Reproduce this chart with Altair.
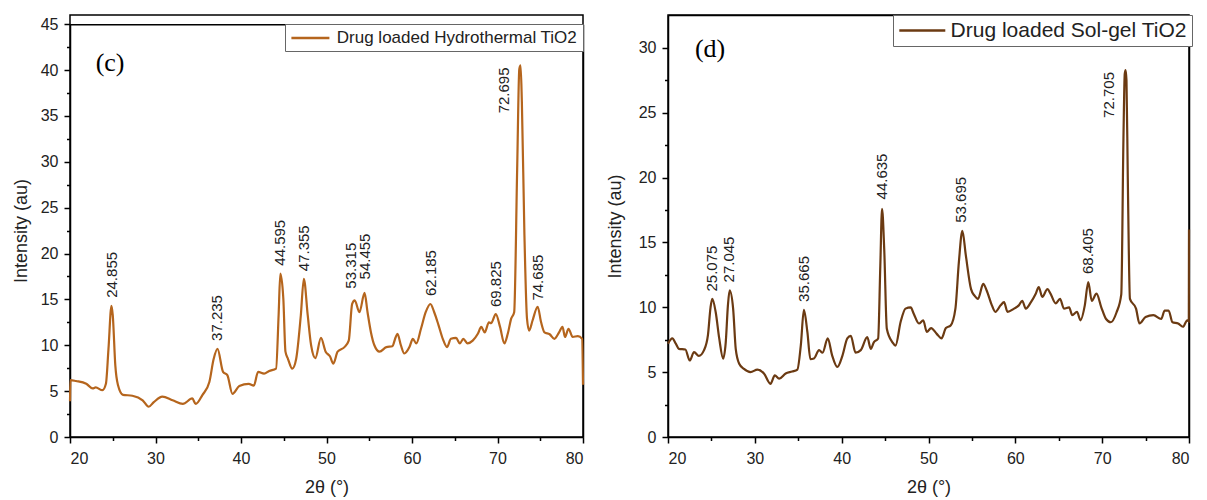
import altair as alt
import pandas as pd

# ---------------- data: panel (c) Drug loaded Hydrothermal TiO2 ----------------
hydro_name = "Drug loaded Hydrothermal TiO2"
hydro_x = [
    20.0, 20.05, 20.7, 21.9, 22.65, 23.0, 23.8, 24.2, 24.5, 24.85,
    25.0, 25.3, 25.6, 26.2, 27.3, 28.5, 29.2, 29.8, 30.8, 32.0,
    33.2, 34.3, 34.7, 35.5, 36.3, 36.8, 37.25, 37.9, 38.4, 39.0,
    39.8, 40.9, 41.5, 42.0, 42.7, 43.3, 44.1, 44.4, 44.6, 44.95,
    45.2, 45.5, 46.0, 46.45, 47.0, 47.35, 47.8, 48.2, 48.7, 49.35,
    49.9, 50.4, 50.8, 51.3, 52.1, 52.6, 53.0, 53.3, 53.85, 54.45,
    54.8, 55.2, 55.6, 56.2, 57.0, 57.7, 58.1, 58.3, 58.7, 59.1,
    59.7, 60.1, 60.5, 61.05, 61.6, 62.15, 62.6, 63.1, 63.6, 64.1,
    64.55, 65.15, 65.6, 66.0, 66.5, 67.1, 67.7, 68.1, 68.5, 69.0,
    69.25, 69.8, 70.3, 70.8, 71.2, 71.6, 71.95, 72.3, 72.55, 72.7,
    72.85, 73.15, 73.45, 73.7, 74.1, 74.7, 75.1, 75.5, 76.1, 76.65,
    77.2, 77.6, 77.9, 78.3, 78.8, 79.4, 79.9, 80.0,
]
hydro_y = [
    3.9, 6.2, 6.1, 5.8, 5.3, 5.4, 5.1, 5.8, 9.6, 14.3,
    13.3, 7.8, 5.7, 4.6, 4.5, 4.0, 3.3, 3.8, 4.4, 4.0,
    3.6, 4.2, 3.6, 4.6, 6.0, 8.5, 9.6, 7.1, 6.75, 4.7,
    5.55, 5.8, 5.6, 7.1, 6.9, 7.2, 7.45, 13.3, 17.8, 15.1,
    9.3, 8.5, 7.45, 8.5, 13.3, 17.25, 13.3, 10.0, 8.6, 10.8,
    9.3, 8.8, 8.0, 9.3, 9.8, 10.5, 14.5, 14.9, 13.6, 15.7,
    13.6, 11.4, 10.0, 9.3, 9.8, 9.9, 10.9, 11.25, 10.0, 9.1,
    9.8, 10.7, 10.2, 11.8, 13.6, 14.5, 13.6, 12.2, 10.7, 9.8,
    10.7, 10.8, 10.2, 10.7, 10.2, 10.5, 11.25, 12.0, 11.4, 12.5,
    12.4, 13.4, 12.0, 10.2, 11.25, 12.9, 13.6, 29.2, 40.1, 40.5,
    36.5, 22.0, 12.9, 11.6, 12.7, 14.2, 12.5, 11.4, 11.2, 10.7,
    11.4, 12.0, 10.9, 11.8, 10.9, 11.0, 10.7, 5.7,
]
hydro_peak_txt = ["24.855", "37.235", "44.595", "47.355", "53.315", "54.455", "62.185", "69.825", "74.685"]
hydro_label_x = [24.855, 37.235, 44.595, 47.355, 52.85, 54.55, 62.185, 69.825, 74.685]
hydro_label_y = [14.3, 9.6, 17.8, 17.2, 15.3, 16.3, 14.5, 13.3, 14.0]
hydro_top_txt = ["72.695"]
hydro_top_x = [72.695]
hydro_top_y = [40.5]

# ---------------- data: panel (d) Drug loaded Sol-gel TiO2 ----------------
sol_name = "Drug loaded Sol-gel TiO2"
sol_x = [
    20.0, 20.5, 20.9, 21.25, 22.0, 22.5, 23.0, 23.55, 24.15, 24.6,
    24.9, 25.1, 25.5, 25.9, 26.35, 26.65, 26.9, 27.1, 27.5, 27.8,
    28.2, 28.75, 29.5, 30.3, 31.05, 31.8, 32.3, 32.8, 33.55, 34.3,
    34.9, 35.3, 35.65, 36.05, 36.4, 36.8, 37.4, 37.8, 38.4, 38.9,
    39.5, 40.1, 40.65, 41.05, 41.6, 42.2, 42.95, 43.35, 43.7, 44.2,
    44.45, 44.65, 44.9, 45.2, 45.85, 46.2, 46.8, 47.35, 47.95, 48.3,
    48.9, 49.4, 49.8, 50.3, 50.95, 51.5, 52.0, 52.55, 53.1, 53.5,
    53.9, 54.3, 54.9, 55.3, 55.7, 56.3, 56.7, 57.3, 57.7, 58.3,
    58.7, 59.1, 59.85, 60.4, 60.8, 61.2, 61.8, 62.35, 62.7, 63.1,
    63.7, 64.05, 64.65, 65.15, 65.6, 66.2, 66.55, 67.1, 67.5, 68.0,
    68.4, 68.8, 69.35, 69.9, 70.45, 71.0, 71.65, 72.2, 72.45, 72.6,
    72.7, 72.8, 72.95, 73.2, 73.9, 74.3, 75.0, 75.9, 76.8, 77.2,
    77.65, 78.1, 78.75, 79.3, 79.8, 79.98, 80.0,
]
sol_y = [
    7.2, 7.6, 7.2, 6.8, 6.75, 5.9, 6.55, 6.25, 6.7, 7.85,
    10.0, 10.65, 9.6, 7.6, 6.05, 7.3, 10.15, 11.3, 9.9, 6.8,
    5.65, 5.25, 5.0, 5.2, 4.9, 4.1, 4.75, 4.5, 4.9, 5.05,
    5.2, 7.1, 9.8, 8.1, 6.0, 6.05, 6.7, 6.5, 7.6, 6.3,
    5.4, 6.3, 7.6, 7.8, 6.5, 6.7, 7.7, 6.8, 7.3, 7.6,
    13.2, 17.6, 14.5, 8.35, 7.3, 7.05, 8.9, 9.9, 10.0, 9.5,
    8.75, 9.0, 8.1, 8.4, 7.95, 7.6, 8.4, 8.6, 9.9, 13.5,
    15.9, 14.0, 11.4, 10.9, 10.65, 11.8, 11.3, 10.15, 9.65, 10.15,
    10.4, 9.65, 9.9, 10.15, 10.5, 9.9, 10.4, 11.05, 11.55, 10.8,
    11.4, 11.05, 10.3, 10.65, 9.9, 10.0, 9.4, 9.65, 9.0, 10.15,
    11.95, 10.5, 11.05, 10.0, 9.1, 8.85, 9.6, 11.0, 23.0, 28.0,
    28.3, 27.5, 20.0, 10.65, 9.9, 8.75, 9.25, 9.4, 9.1, 9.75,
    9.75, 8.85, 8.75, 8.5, 9.0, 8.9, 16.0,
]
sol_peak_txt = ["25.075", "27.045", "35.665", "44.635", "53.695", "68.405"]
sol_label_x = [25.075, 27.045, 35.665, 44.635, 53.695, 68.405]
sol_label_y = [10.6, 11.3, 9.8, 17.7, 15.9, 11.95]
sol_top_txt = ["72.705"]
sol_top_x = [72.705]
sol_top_y = [28.3]

x_major = [20, 30, 40, 50, 60, 70, 80]
x_minor = [25, 35, 45, 55, 65, 75]
hydro_y_major = [0, 5, 10, 15, 20, 25, 30, 35, 40, 45]
hydro_y_minor = [2.5, 7.5, 12.5, 17.5, 22.5, 27.5, 32.5, 37.5, 42.5]
sol_y_major = [0, 5, 10, 15, 20, 25, 30]
sol_y_minor = [2.5, 7.5, 12.5, 17.5, 22.5, 27.5]

SANS = "Liberation Sans"
SERIF = "Liberation Serif"
INK = "#222222"
PLOT_H = 422


def panel(xv, yv, name, color, y_max, top_gap, y_major, y_minor,
          pk_x, pk_y, pk_t, tp_x, tp_y, tp_t, tag, tag_x, tag_y,
          leg_x, leg_y, leg_font, leg_len, leg_gap, width, ytitle_pad):
    xs = alt.Scale(domain=[20, 80], nice=False, zero=False)
    if top_gap > 0:
        ys = alt.Scale(domain=[0, y_max], nice=False, zero=False, range=[PLOT_H, top_gap])
    else:
        ys = alt.Scale(domain=[0, y_max], nice=False, zero=False)
    df = pd.DataFrame({"x": xv, "y": yv, "i": list(range(len(xv))), "series": [name] * len(xv)})

    r = leg_len / 5.0
    sym_size = (2 * r) ** 2
    line = alt.Chart(df).mark_line(strokeWidth=2.2, interpolate="monotone").encode(
        x=alt.X("x:Q", scale=xs, axis=alt.Axis(
            values=x_major, title="2θ (°)", domain=True, domainColor="black", domainWidth=1.5,
            grid=False, orient="bottom", tickSize=6, labelPadding=7, titlePadding=12)),
        y=alt.Y("y:Q", scale=ys, axis=alt.Axis(
            values=y_major, title="Intensity (au)", domain=True, domainColor="black", domainWidth=1.5,
            grid=False, orient="left", tickSize=6, labelPadding=6, titlePadding=ytitle_pad)),
        color=alt.Color("series:N", scale=alt.Scale(range=[color]), legend=alt.Legend(
            orient="none", legendX=leg_x, legendY=leg_y, title=None,
            labelFont=SANS, labelFontSize=leg_font, labelColor=INK, labelLimit=500,
            labelOffset=leg_len - 2 * r + leg_gap, symbolType="M-1,0L4,0", symbolSize=sym_size,
            symbolStrokeWidth=2.5, strokeColor="#666666", fillColor="white",
            padding=5, cornerRadius=0)),
        order=alt.Order("i:Q"),
    )
    # minor ticks: an axis-only layer that draws no marks
    minor = alt.Chart(df).transform_filter("false").mark_point().encode(
        x=alt.X("x:Q", scale=xs, axis=alt.Axis(
            values=x_minor, labels=False, title=None, domain=False, grid=False,
            orient="bottom", tickSize=3.5)),
        y=alt.Y("y:Q", scale=ys, axis=alt.Axis(
            values=y_minor, labels=False, title=None, domain=False, grid=False,
            orient="left", tickSize=3.5)),
    )
    # top and right border of the frame, drawn as bare axis lines
    border = alt.Chart(df).transform_filter("false").mark_point().encode(
        x=alt.X("x:Q", scale=xs, axis=alt.Axis(
            orient="top", offset=-top_gap, domain=True, domainColor="black", domainWidth=1.5,
            ticks=False, labels=False, title=None, grid=False)),
        y=alt.Y("y:Q", scale=ys, axis=alt.Axis(
            orient="right", domain=True, domainColor="black", domainWidth=1.5,
            ticks=False, labels=False, title=None, grid=False)),
    )
    pdf = pd.DataFrame({"x": pk_x, "y": pk_y, "t": pk_t})
    peaks = alt.Chart(pdf).mark_text(
        angle=270, align="left", baseline="middle", dx=8, fontSize=15, font=SANS, color=INK
    ).encode(
        x=alt.X("x:Q", scale=xs, axis=None), y=alt.Y("y:Q", scale=ys, axis=None), text="t:N")
    tdf = pd.DataFrame({"x": tp_x, "y": tp_y, "t": tp_t})
    tops = alt.Chart(tdf).mark_text(
        angle=270, align="right", baseline="middle", dx=-2, dy=-17, fontSize=15, font=SANS, color=INK
    ).encode(
        x=alt.X("x:Q", scale=xs, axis=None), y=alt.Y("y:Q", scale=ys, axis=None), text="t:N")
    gdf = pd.DataFrame({"x": [tag_x], "y": [tag_y], "t": [tag]})
    tagm = alt.Chart(gdf).mark_text(
        align="left", baseline="middle", fontSize=26, font=SERIF, color="black"
    ).encode(
        x=alt.X("x:Q", scale=xs, axis=None), y=alt.Y("y:Q", scale=ys, axis=None), text="t:N")

    return alt.layer(line, minor, border, peaks, tops, tagm).resolve_axis(
        x="independent", y="independent").properties(width=width, height=PLOT_H)


left = panel(hydro_x, hydro_y, hydro_name, "#B5651D", 45, 9.17, hydro_y_major, hydro_y_minor,
             hydro_label_x, hydro_label_y, hydro_peak_txt, hydro_top_x, hydro_top_y, hydro_top_txt,
             "(c)", 23.0, 40.8, 215, 9, 17, 38, 6, 513, 10)
right = panel(sol_x, sol_y, sol_name, "#6B3A12", 32.54, 0, sol_y_major, sol_y_minor,
              sol_label_x, sol_label_y, sol_peak_txt, sol_top_x, sol_top_y, sol_top_txt,
              "(d)", 23.1, 29.9, 225, 0, 21, 46, 4, 521, 14)

chart = alt.hconcat(left, right, spacing=16).resolve_scale(color="independent").properties(
    padding={"left": 3, "top": 5, "right": 0, "bottom": 0}
).configure_view(stroke="black", strokeWidth=1.5).configure_axis(
    labelFont=SANS, titleFont=SANS, labelFontSize=16, titleFontSize=18,
    labelColor=INK, titleColor=INK, titleFontWeight="normal",
    tickColor="black", tickWidth=1.5, domainColor="black", domainWidth=1.5,
)

chart.save("out.html", embed_options={"renderer": "svg", "actions": False})
